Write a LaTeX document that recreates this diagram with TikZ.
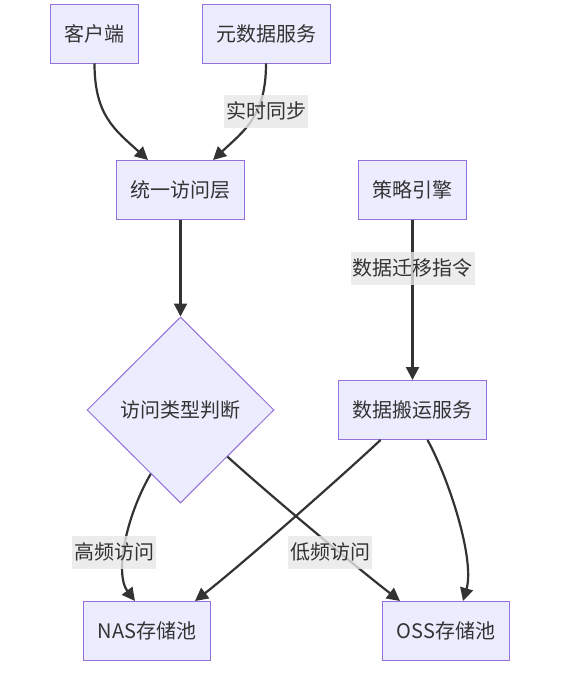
\documentclass[tikz,border=0pt]{standalone}
\usepackage{fontspec}
\newfontfamily\cjk{Noto Sans CJK SC}
\usetikzlibrary{shapes.geometric,arrows.meta}

\definecolor{boxfill}{HTML}{ECECFF}
\definecolor{boxline}{HTML}{9370DB}
\definecolor{ink}{HTML}{333333}
\definecolor{lblgray}{HTML}{E8E8E8}

\tikzset{
  txt/.style={text=ink, font=\cjk\fontsize{20}{24}\selectfont},
  box/.style={txt, draw=boxline, fill=boxfill, line width=1pt, inner xsep=14pt, minimum height=59pt},
  decide/.style={txt, diamond, draw=boxline, fill=boxfill, line width=1pt, minimum width=187pt, minimum height=186pt, inner sep=0pt},
  lbl/.style={txt, fill=lblgray, fill opacity=0.8, text opacity=1, inner xsep=2pt, minimum height=33pt},
  flow/.style={draw=ink, line width=2.2pt, -{Triangle[length=13pt,width=13pt]}}
}

\begin{document}
\begin{tikzpicture}[x=1pt,y=1pt]

    \useasboundingbox (0,0) rectangle (584,-680);
    \fill[white] (0,0) rectangle (584,-680);

    % boxes
    \node[box] (client)  at (94.5,-33.5)  {客户端};
    \node[box] (meta)    at (266,-33.5)   {元数据服务};
    \node[box] (unified) at (180.5,-190)  {统一访问层};
    \node[box] (engine)  at (412.5,-189.5) {策略引擎};
    \node[decide] (judge) at (180.5,-410) {访问类型判断};
    \node[box] (mover)   at (412.5,-410)  {数据搬运服务};
    \node[box] (nas)     at (147,-631)    {NAS存储池};
    \node[box] (oss)     at (446,-631)    {OSS存储池};

    % connectors
    \draw[flow] (client.south) .. controls +(0,-52) and +(-33,30) .. ([xshift=-32.5pt]unified.north);
    \draw[flow] (meta.south) .. controls +(0,-52) and +(32,30) .. ([xshift=32.5pt]unified.north);
    \draw[flow] (unified.south) -- (judge.north);
    \draw[flow] (engine.south) -- (mover.north);
    \draw[flow] (judge.-115) .. controls +(-26,-45) and +(-20,26) .. ([xshift=-12pt]nas.north);
    \draw[flow] (judge.south east) .. controls +(50,-45) and +(-45,35) .. ([xshift=-46pt]oss.north);
    \draw[flow] ([xshift=-32pt]mover.south) .. controls +(-35,-33) and +(45,35) .. ([xshift=48pt]nas.north);
    \draw[flow] ([xshift=15pt]mover.south) .. controls +(22,-40) and +(12,41) .. ([xshift=17pt]oss.north);

    % edge labels
    \node[lbl] (lblSync) at (266,-111)   {实时同步};
    \node[lbl] (lblMove) at (412.5,-268) {数据迁移指令};
    \node[lbl] (lblHigh) at (114,-552)   {高频访问};
    \node[lbl] (lblLow)  at (330,-552)   {低频访问};

\end{tikzpicture}
\end{document}
